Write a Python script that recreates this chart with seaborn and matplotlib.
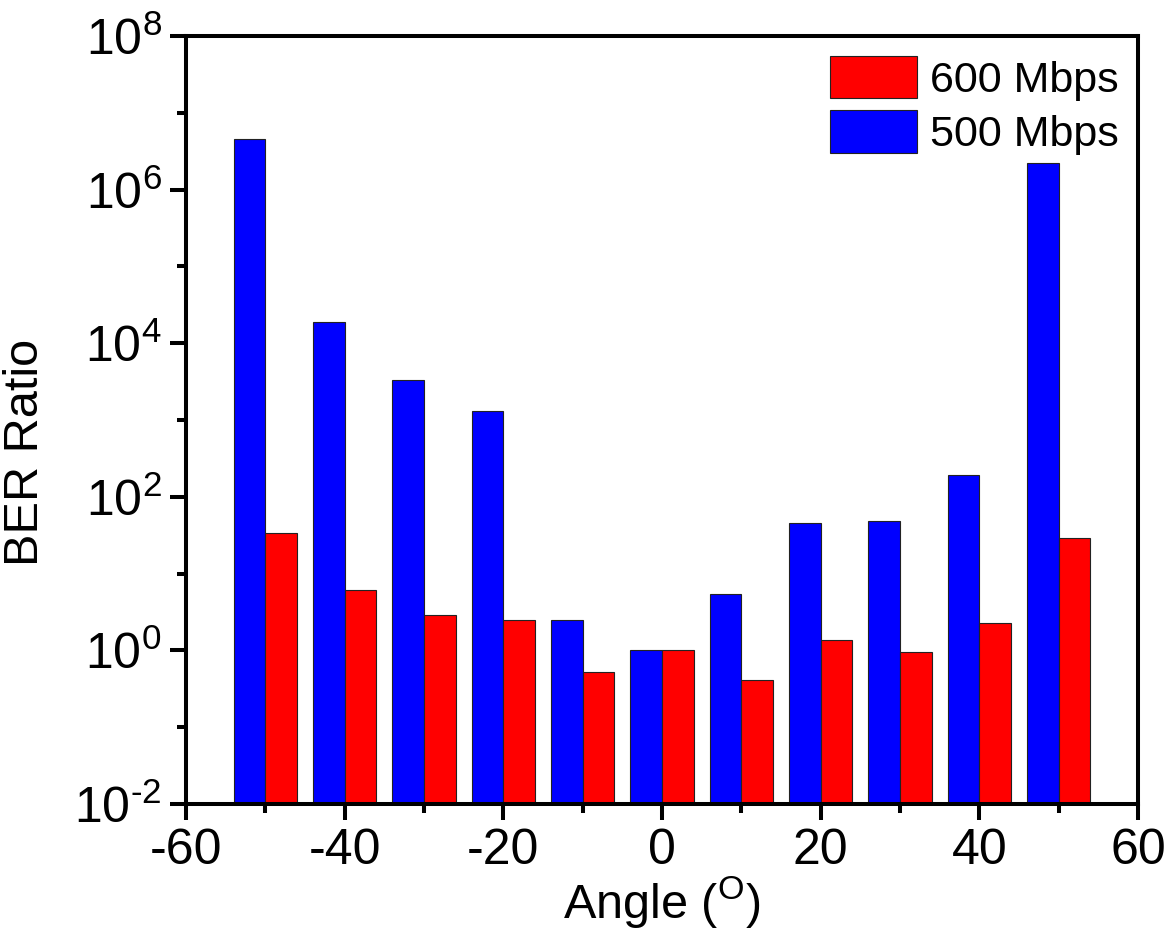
import matplotlib
matplotlib.use("Agg")
import matplotlib.pyplot as plt
import matplotlib.ticker as mticker
import seaborn as sns
import pandas as pd

angles = [-50, -40, -30, -20, -10, 0, 10, 20, 30, 40, 50]
ber_500 = [4.6e6, 1.9e4, 3.3e3, 1.3e3, 2.45, 1.0, 5.5, 45, 49, 190, 2.2e6]
ber_600 = [34, 6.1, 2.85, 2.45, 0.52, 1.0, 0.41, 1.35, 0.94, 2.3, 29]
series_labels = ["500 Mbps", "600 Mbps"]
colors = {"500 Mbps": "#0000FF", "600 Mbps": "#FF0000"}
x_major = [-60, -40, -20, 0, 20, 40, 60]
x_minor = [-50, -30, -10, 10, 30, 50]
y_major_exp = [-2, 0, 2, 4, 6, 8]
y_minor_exp = [-1, 1, 3, 5, 7]

df = pd.DataFrame({
    "angle": angles * 2,
    "ber": ber_500 + ber_600,
    "rate": [series_labels[0]] * len(angles) + [series_labels[1]] * len(angles),
})

sns.set_theme(style="ticks")
plt.rcParams["font.family"] = ["Liberation Sans", "DejaVu Sans"]
plt.rcParams["mathtext.fontset"] = "custom"
plt.rcParams["mathtext.rm"] = "Liberation Sans"
plt.rcParams["mathtext.it"] = "Liberation Sans"
plt.rcParams["mathtext.bf"] = "Liberation Sans:bold"
plt.rcParams["axes.unicode_minus"] = False
plt.rcParams["text.color"] = "black"
plt.rcParams["axes.labelcolor"] = "black"

fig = plt.figure(figsize=(11.74, 9.34), dpi=100)
ax = fig.add_axes([0.1584, 0.1392, 0.8109, 0.8223])

sns.barplot(data=df, x="angle", y="ber", hue="rate", hue_order=series_labels,
            palette=colors, native_scale=True, errorbar=None, width=0.8,
            edgecolor="#222222", linewidth=0.8, saturation=1, ax=ax)

ax.set_yscale("log")
ax.set_ylim(1e-2, 1e8)
ax.set_xlim(-60, 60)

ax.xaxis.set_major_locator(mticker.FixedLocator(x_major))
ax.xaxis.set_minor_locator(mticker.FixedLocator(x_minor))
ax.xaxis.set_major_formatter(mticker.FuncFormatter(lambda v, p: "%d" % v))
ax.yaxis.set_major_locator(mticker.FixedLocator([10.0 ** e for e in y_major_exp]))
ax.yaxis.set_minor_locator(mticker.FixedLocator([10.0 ** e for e in y_minor_exp]))
ax.yaxis.set_major_formatter(mticker.FixedFormatter(
    [r"$10^{%s}$" % str(e).replace("-", "\u2010") for e in y_major_exp]))
ax.yaxis.set_minor_formatter(mticker.NullFormatter())

for s in ax.spines.values():
    s.set_linewidth(2.9)
    s.set_color("black")

ax.tick_params(which="major", direction="out", length=11.5, width=2.9,
               labelsize=36, colors="black", pad=6)
ax.tick_params(which="minor", direction="out", length=6.5, width=2.9, colors="black")
ax.tick_params(top=False, right=False, which="both")

ax.set_xlabel(r"Angle ($^{\mathrm{O}}$)", fontsize=35, labelpad=0)
ax.set_ylabel("BER Ratio", fontsize=35)
ax.yaxis.set_label_coords(-0.145, 0.458)

handles, labels = ax.get_legend_handles_labels()
order = [labels.index("600 Mbps"), labels.index("500 Mbps")]
ax.legend([handles[i] for i in order], [labels[i] for i in order],
          loc="upper right", bbox_to_anchor=(0.996, 0.994), frameon=False,
          fontsize=31, handlelength=2.0, handleheight=1.15,
          handletextpad=0.32, labelspacing=0.22, borderaxespad=0.25,
          borderpad=0.1)

fig.savefig("out.png", dpi=100)
